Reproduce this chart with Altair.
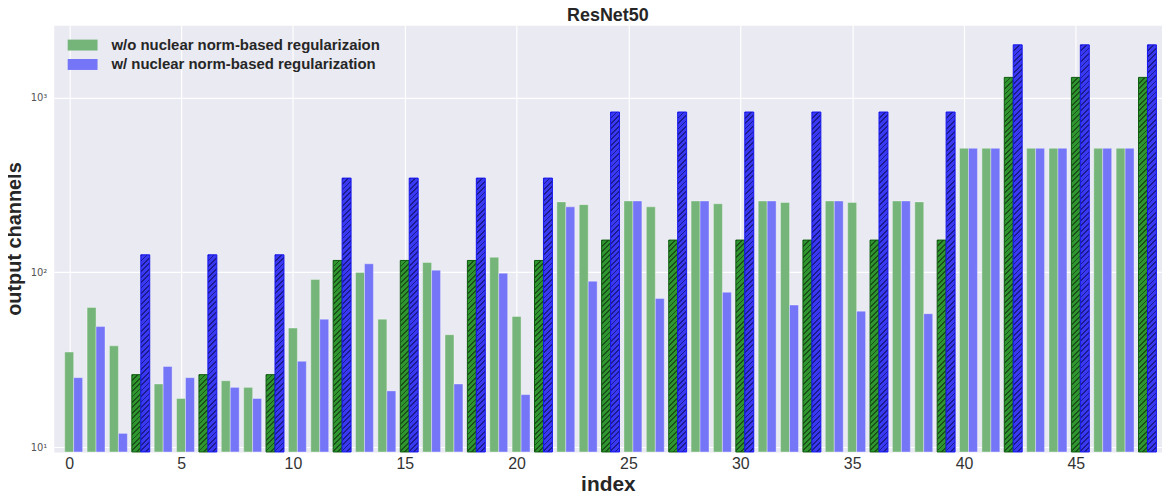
import math
import altair as alt
import pandas as pd

# ---------------- data ----------------
index = list(range(49))
wo_reg = [35, 63, 38, 26, 23, 19, 26, 24, 22, 26,
          48, 91, 117, 100, 54, 117, 114, 44, 117, 122,
          56, 117, 253, 244, 153, 256, 237, 153, 256, 247,
          153, 256, 251, 153, 256, 251, 153, 256, 253, 153,
          512, 512, 1303, 512, 512, 1303, 512, 512, 1303]
w_reg = [25, 49, 12, 126, 29, 25, 126, 22, 19, 126,
         31, 54, 346, 112, 21, 346, 103, 23, 346, 99,
         20, 346, 237, 89, 826, 256, 71, 826, 256, 77,
         826, 256, 65, 826, 256, 60, 826, 256, 58, 826,
         512, 512, 2000, 512, 512, 2000, 512, 512, 2000]
hatched_idx = [3, 6, 9, 12, 15, 18, 21, 24, 27, 30, 33, 36, 39, 42, 45, 48]
series = ["w/o nuclear norm-based regularizaion", "w/ nuclear norm-based regularization"]
x_ticks = [0, 5, 10, 15, 20, 25, 30, 35, 40, 45]
y_ticks = [10, 100, 1000]

# ---------------- layout / style ----------------
W, H = 1114, 429
TOP = 16
XDOM = [-0.69, 48.85]
YDOM = [9.4, 2592]
BAR = 0.4
FONT = "Liberation Sans"
BG = "#eaeaf2"
plain_colors = ["#75b579", "#7575f8"]
hatch_base = ["#2f962f", "#3939f2"]
hatch_line = ["#1a521a", "#1c1c90"]
hatch_edge = ["#0b5a0b", "#1414f0"]

rows = []
for i, a, b in zip(index, wo_reg, w_reg):
    for s_i, v in enumerate((a, b)):
        x0 = i - BAR / 2 + s_i * BAR
        rows.append(dict(index=i, series=series[s_i], s_i=s_i, value=v,
                         x0=x0, x1=x0 + BAR, base=YDOM[0],
                         hatched=i in hatched_idx))
df = pd.DataFrame(rows)

xscale = alt.Scale(domain=XDOM, nice=False, zero=False)
yscale = alt.Scale(type="log", domain=YDOM, nice=False)

xaxis = alt.Axis(values=x_ticks, title="index", labelFontSize=16, labelColor="#333333",
                 labelPadding=4, ticks=False, domain=False, grid=True,
                 gridColor="white", gridWidth=1.2, titleFontSize=21,
                 titleFontWeight="bold", titleColor="#262626",
                 titleBaseline="alphabetic", titleY=39)
yaxis = alt.Axis(values=y_ticks, title="output channels",
                 labelExpr="datum.value == 10 ? '10\u00b9' : datum.value == 100 ? '10\u00b2' : '10\u00b3'",
                 labelFont="DejaVu Sans", labelFontSize=10, labelColor="#555555",
                 labelPadding=7, ticks=False, domain=False, grid=True,
                 gridColor="white", gridWidth=1.2, titleFontSize=20,
                 titleFontWeight="bold", titleColor="#262626",
                 titleBaseline="alphabetic", titleAngle=270, titleAlign="center",
                 titleX=-33, titleY=H / 2)

enc = dict(
    x=alt.X("x0:Q", scale=xscale, axis=xaxis),
    x2="x1:Q",
    y=alt.Y("value:Q", scale=yscale, axis=yaxis),
    y2="base:Q",
)

plain = alt.Chart(df[~df["hatched"]]).mark_bar(
    stroke="white", strokeOpacity=0.35, strokeWidth=1
).encode(
    color=alt.Color("series:N",
                    scale=alt.Scale(domain=series, range=plain_colors),
                    legend=alt.Legend(title=None, orient="none", legendX=19, legendY=10,
                                      symbolType="M-1.5,-0.55H1.5V0.55H-1.5Z",
                                      symbolSize=400, symbolStrokeWidth=0,
                                      labelFontSize=15, labelFontWeight="bold",
                                      labelColor="#262626", labelOffset=19,
                                      labelLimit=1000, rowPadding=1.5, padding=0)),
    **enc,
)


def px_height(v):
    l0, l1 = math.log10(YDOM[0]), math.log10(YDOM[1])
    return H * (math.log10(v) - l0) / (l1 - l0)


def hatch_gradient(h, w, base, line, period=5.5, frac=0.33):
    a = w / h
    total = w + h
    s = total / (h * (1 + a * a))
    n = max(1, round(total / period))
    stops = []
    for k in range(n):
        t0 = round(k / n, 5)
        t1 = round((k + frac) / n, 5)
        t2 = round((k + 1) / n, 5)
        stops += [alt.GradientStop(offset=t0, color=line),
                  alt.GradientStop(offset=t1, color=line),
                  alt.GradientStop(offset=t1, color=base),
                  alt.GradientStop(offset=t2, color=base)]
    return alt.LinearGradient(gradient="linear", stops=stops,
                              x1=0, y1=0, x2=round(a * s, 5), y2=round(s, 5))


bar_w = W * BAR / (XDOM[1] - XDOM[0])
hdf = df[df["hatched"]]
hatch_layers = []
for (s_i, v), sub in hdf.groupby(["s_i", "value"]):
    grad = hatch_gradient(px_height(v), bar_w, hatch_base[s_i], hatch_line[s_i])
    hatch_layers.append(
        alt.Chart(sub).mark_bar(color=grad, stroke=hatch_edge[s_i], strokeWidth=1)
        .encode(**enc)
    )

chart = alt.layer(plain, *hatch_layers).properties(
    width=W, height=H,
    padding={"left": 46, "top": TOP, "right": 0, "bottom": 485 - TOP - H},
    autosize=alt.AutoSizeParams(type="none"),
    title=alt.TitleParams("ResNet50", fontSize=18, fontWeight="bold", font=FONT,
                          color="#262626", anchor="middle", frame="group",
                          offset=0),
).configure(
    font=FONT, background="white"
).configure_view(
    fill=BG, stroke="transparent"
)

chart.save("out.html", embed_options={"renderer": "svg", "actions": False})
